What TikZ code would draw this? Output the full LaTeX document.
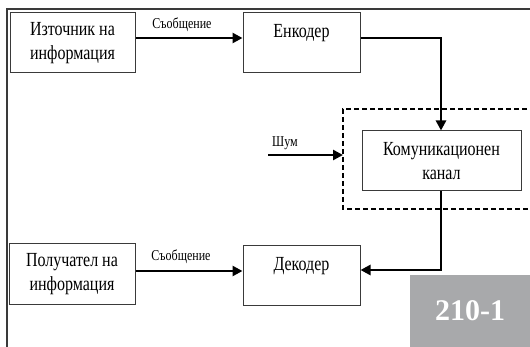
\documentclass[tikz,border=0pt]{standalone}
\usepackage{fontspec}
\setmainfont{Liberation Serif}[FakeStretch=0.8]
\newfontfamily\numfont{Liberation Serif}
\usetikzlibrary{arrows.meta}
\definecolor{framegray}{HTML}{3A3A3A}
\definecolor{tagbg}{HTML}{A8A9AB}
\tikzset{
  blk/.style={draw=framegray, line width=1pt, inner sep=0pt, fill=white},
  txt/.style={font=\fontsize{20}{24}\selectfont, align=center, inner sep=0pt},
  lbl/.style={font=\fontsize{15}{17}\selectfont, inner sep=0pt},
  thickarr/.style={line width=2.8pt, -{Triangle[length=10pt,width=10pt]}},
  thinline/.style={line width=1.3pt},
}
\begin{document}
\begin{tikzpicture}[x=1pt,y=-1pt]
\useasboundingbox (0,0) rectangle (530,347);
\fill[white] (0,0) rectangle (530,347);
% outer frame (top and left)
\draw[framegray, line width=1.3pt] (530,9) -- (7,9) -- (7,347);
% dashed channel region
\draw[black, line width=2pt, dash pattern=on 5pt off 3pt] (535,109) -- (343,109) -- (343,209) -- (535,209);
% boxes
\node[blk, minimum width=125pt, minimum height=60pt] (src) at (72.5,43) {};
\node[txt] at (src.center) {Източник на\\информация};
\node[blk, minimum width=117pt, minimum height=60pt] (enc) at (301.5,43) {};
\node[txt] (enct) at (301.5,33) {Енкодер};
\node[blk, minimum width=159pt, minimum height=60pt] (chan) at (441.5,161) {};
\node[txt] at (chan.center) {Комуникационен\\канал};
\node[blk, minimum width=117pt, minimum height=60pt] (dec) at (301.5,276) {};
\node[txt] (dect) at (301.5,266) {Декодер};
\node[blk, minimum width=126pt, minimum height=61pt] (rcv) at (72,274.5) {};
\node[txt] at (rcv.center) {Получател на\\информация};
% grey tag
\node[fill=tagbg, minimum width=120pt, minimum height=72pt, inner sep=0pt,
      font=\numfont\bfseries\fontsize{30}{32}\selectfont, text=white] (tag) at (470,311) {210-1};
% connectors
\draw[thickarr] ([yshift=5pt]src.east) -- ([yshift=5pt]enc.west);
\node[lbl] (m1) at (182,25) {Съобщение};
\coordinate (c1) at (441,38);
\draw[thinline] ([yshift=5pt]enc.east) -- (c1);
\draw[thickarr] ([yshift=0.6pt]c1) -- (chan.north -| c1);
\coordinate (nz) at (268,155);
\coordinate (nzend) at (343,155);
\draw[thickarr] (nz) -- (nzend);
\node[lbl, anchor=south west] (nzl) at (272,150) {Шум};
\coordinate (c2) at (441,270);
\draw[thinline] (chan.south -| c2) -- (c2);
\draw[thickarr] ([xshift=0.6pt]c2) -- (dec.east |- c2);
\draw[thickarr] ([yshift=3.5pt]rcv.east) -- ([yshift=5pt]dec.west);
\node[lbl] (m2) at (181,257) {Съобщение};
\end{tikzpicture}
\end{document}
